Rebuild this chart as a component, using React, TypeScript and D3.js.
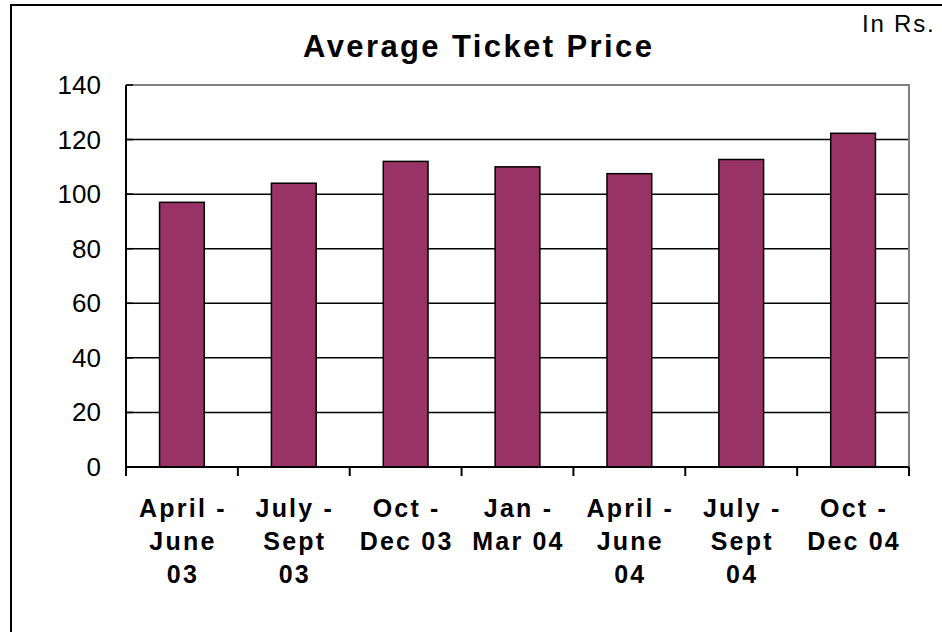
import React, { useRef, useEffect } from 'react';
import * as d3 from 'd3';

// chart data
const categories = [
  'April - June 03',
  'July - Sept 03',
  'Oct - Dec 03',
  'Jan - Mar 04',
  'April - June 04',
  'July - Sept 04',
  'Oct - Dec 04',
];
const labelLines = [
  ['April -', 'June', '03'],
  ['July -', 'Sept', '03'],
  ['Oct -', 'Dec 03'],
  ['Jan -', 'Mar 04'],
  ['April -', 'June', '04'],
  ['July -', 'Sept', '04'],
  ['Oct -', 'Dec 04'],
];
const prices = [97, 104, 112, 110, 107.5, 112.7, 122.3];
const yTicks = [0, 20, 40, 60, 80, 100, 120, 140];

const FONT = '"Liberation Sans", Arial, sans-serif';

function App() {
  const svgRef = useRef<SVGSVGElement>(null);

  useEffect(() => {
    const svg = d3.select(svgRef.current);
    svg.selectAll('*').remove();

    const left = 126, right = 909, top = 85, bottom = 467;

    const x = d3.scaleBand<string>()
      .domain(categories)
      .range([left, right])
      .paddingInner(0.6)
      .paddingOuter(0.3);

    const y = d3.scaleLinear()
      .domain([0, 140])
      .range([bottom, top]);

    // outer frame
    svg.append('rect')
      .attr('x', 11).attr('y', 5)
      .attr('width', 960).attr('height', 660)
      .attr('fill', 'white')
      .attr('stroke', 'black')
      .attr('stroke-width', 2);

    // title + unit
    svg.append('text')
      .attr('x', 303).attr('y', 57)
      .attr('font-family', FONT)
      .attr('font-weight', 'bold')
      .attr('font-size', 31)
      .attr('letter-spacing', 2.4)
      .text('Average Ticket Price');

    svg.append('text')
      .attr('x', 862).attr('y', 32)
      .attr('font-family', FONT)
      .attr('font-size', 24)
      .attr('letter-spacing', 1.8)
      .text('In Rs.');

    // gridlines
    svg.selectAll('.grid')
      .data(yTicks.filter(t => t > 0 && t < 140))
      .join('line')
      .attr('class', 'grid')
      .attr('x1', left).attr('x2', right)
      .attr('y1', d => y(d)).attr('y2', d => y(d))
      .attr('stroke', 'black')
      .attr('stroke-width', 1.5);

    // plot area border (top + right, gray)
    svg.append('path')
      .attr('d', `M${left},${y(140)}H${right}V${y(0)}`)
      .attr('fill', 'none')
      .attr('stroke', '#808080')
      .attr('stroke-width', 2);

    // bars
    svg.selectAll('.bar')
      .data(prices)
      .join('rect')
      .attr('class', 'bar')
      .attr('x', (d, i) => x(categories[i])!)
      .attr('width', x.bandwidth())
      .attr('y', d => y(d))
      .attr('height', d => y(0) - y(d))
      .attr('fill', '#993366')
      .attr('stroke', 'black')
      .attr('stroke-width', 1.5);

    // y axis
    svg.append('line')
      .attr('x1', left).attr('x2', left)
      .attr('y1', y(140)).attr('y2', y(0) + 9)
      .attr('stroke', 'black').attr('stroke-width', 2);

    svg.selectAll('.ytick')
      .data(yTicks)
      .join('line')
      .attr('class', 'ytick')
      .attr('x1', left).attr('x2', left + 7)
      .attr('y1', d => y(d)).attr('y2', d => y(d))
      .attr('stroke', 'black').attr('stroke-width', 1.5);

    svg.selectAll('.ylabel')
      .data(yTicks)
      .join('text')
      .attr('class', 'ylabel')
      .attr('x', 101)
      .attr('y', d => y(d) + 9)
      .attr('text-anchor', 'end')
      .attr('font-family', FONT)
      .attr('font-size', 26)
      .text(d => d);

    // x axis
    svg.append('line')
      .attr('x1', left - 1).attr('x2', right)
      .attr('y1', y(0)).attr('y2', y(0))
      .attr('stroke', 'black').attr('stroke-width', 2);

    const step = x.step();
    svg.selectAll('.xtick')
      .data(d3.range(categories.length + 1))
      .join('line')
      .attr('class', 'xtick')
      .attr('x1', i => left + i * step).attr('x2', i => left + i * step)
      .attr('y1', y(0)).attr('y2', y(0) + 9)
      .attr('stroke', 'black').attr('stroke-width', 2);

    const labels = svg.selectAll('.xlabel')
      .data(labelLines)
      .join('text')
      .attr('class', 'xlabel')
      .attr('text-anchor', 'middle')
      .attr('font-family', FONT)
      .attr('font-weight', 'bold')
      .attr('font-size', 25)
      .attr('letter-spacing', 2.2);

    labels.each(function (lines, i) {
      const cx = x(categories[i])! + x.bandwidth() / 2 + 1;
      d3.select(this).selectAll('tspan')
        .data(lines)
        .join('tspan')
        .attr('x', cx)
        .attr('y', (d, j) => 517 + j * 33)
        .text(d => d);
    });
  }, []);

  return (
    <svg
      ref={svgRef}
      width={942}
      height={632}
      style={{ position: 'absolute', left: 0, top: 0, background: 'white' }}
    />
  );
}

export default App;
